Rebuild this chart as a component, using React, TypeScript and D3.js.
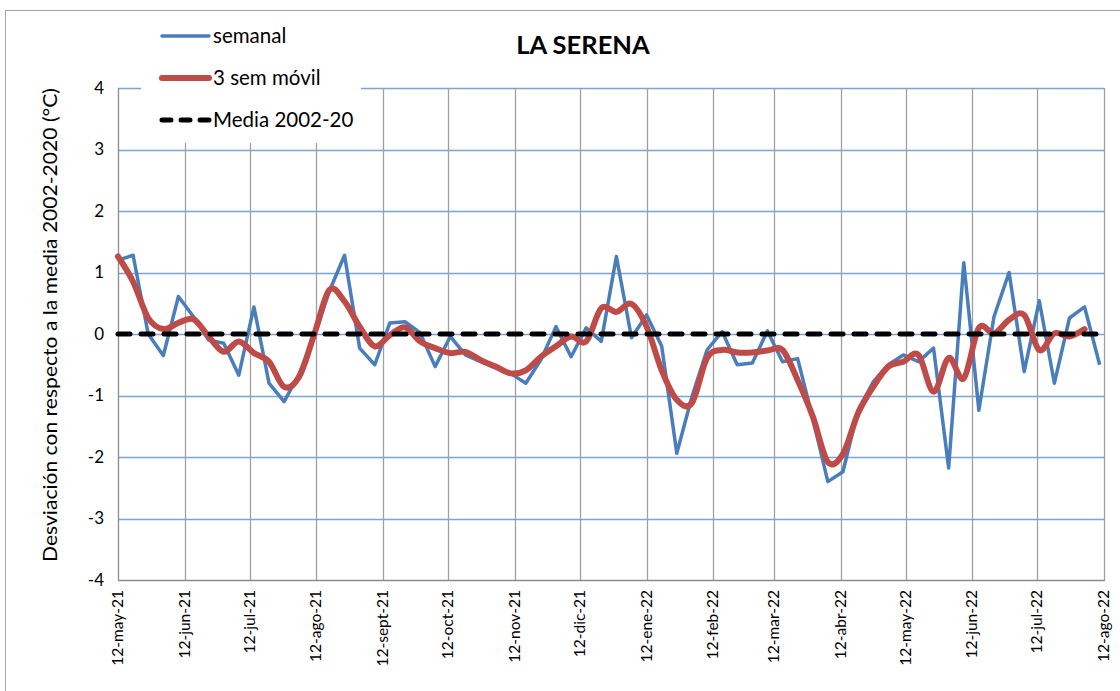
import React, { useEffect, useRef } from 'react';
import * as d3 from 'd3';

const width = 1120;
const height = 691;
const plot = { left: 118, right: 1104, top: 88, bottom: 580 };
const FONT = 'Lato, "Open Sans", sans-serif';

const startDate = new Date(2021, 4, 12);
const endDate = new Date(2022, 7, 12);

// valores semanales (desviación °C)
const semanal = [
	1.2, 1.28, 0.0, -0.35, 0.61, 0.28, -0.1, -0.15, -0.67, 0.44,
	-0.8, -1.1, -0.65, -0.04, 0.7, 1.28, -0.23, -0.5, 0.18, 0.2,
	0.02, -0.53, -0.04, -0.34, -0.45, -0.55, -0.64, -0.8, -0.42, 0.12,
	-0.37, 0.1, -0.12, 1.26, -0.06, 0.31, -0.2, -1.94, -1.02, -0.26,
	0.04, -0.5, -0.47, 0.05, -0.45, -0.4, -1.37, -2.4, -2.24, -1.24,
	-0.78, -0.5, -0.34, -0.45, -0.23, -2.18, 1.16, -1.24, 0.28, 1.0,
	-0.61, 0.54, -0.8, 0.26, 0.44, -0.5
];

// media móvil 3 semanas
const movil = [
	1.26, 0.85, 0.26, 0.08, 0.18, 0.24, -0.04, -0.29, -0.12, -0.31,
	-0.45, -0.86, -0.69, 0.0, 0.72, 0.53, 0.12, -0.2, -0.02, 0.11,
	-0.12, -0.23, -0.31, -0.29, -0.42, -0.53, -0.64, -0.59, -0.37, -0.2,
	-0.04, -0.12, 0.42, 0.36, 0.49, 0.12, -0.59, -1.07, -1.12, -0.39,
	-0.26, -0.3, -0.3, -0.27, -0.26, -0.75, -1.34, -2.08, -1.95, -1.29,
	-0.86, -0.53, -0.45, -0.34, -0.94, -0.39, -0.72, 0.1, 0.01, 0.23,
	0.31, -0.26, 0.01, -0.04, 0.08
];

const media = [0, 0];

const monthLabels = [
	'12-may-21', '12-jun-21', '12-jul-21', '12-ago-21', '12-sept-21', '12-oct-21',
	'12-nov-21', '12-dic-21', '12-ene-22', '12-feb-22', '12-mar-22', '12-abr-22',
	'12-may-22', '12-jun-22', '12-jul-22', '12-ago-22'
];

const yTicks = [4, 3, 2, 1, 0, -1, -2, -3, -4];

const weekDate = (i) => d3.timeDay.offset(startDate, i * 7);

const drawChart = (ref) => {
	const svg = d3.select(ref.current);
	svg.selectAll('*').remove();

	const x = d3.scaleTime().domain([startDate, endDate])
		.range([plot.left, plot.right]);
	const y = d3.scaleLinear().domain([-4, 4])
		.range([plot.bottom, plot.top]);
	const tickDates = monthLabels.map((_, i) => d3.timeMonth.offset(startDate, i));

	svg.append('rect').attr('x', 5.5)
		.attr('y', 10.5)
		.attr('width', width)
		.attr('height', height)
		.attr('fill', '#fff')
		.attr('stroke', '#a6a6a6');

	// horizontal gridlines
	svg.append('g').selectAll('line')
		.data(yTicks.filter((d) => d !== -4))
		.enter()
		.append('line')
		.attr('x1', plot.left)
		.attr('x2', plot.right)
		.attr('y1', (d) => Math.round(y(d)) + 0.5)
		.attr('y2', (d) => Math.round(y(d)) + 0.5)
		.attr('stroke', '#7aa3d6')
		.attr('stroke-width', 1.3);

	// vertical gridlines
	svg.append('g').selectAll('line')
		.data(tickDates.slice(1))
		.enter()
		.append('line')
		.attr('x1', (d) => Math.round(x(d)) + 0.5)
		.attr('x2', (d) => Math.round(x(d)) + 0.5)
		.attr('y1', plot.top)
		.attr('y2', plot.bottom)
		.attr('stroke', '#a0a0a0')
		.attr('stroke-width', 1.3);

	// axes
	svg.append('line').attr('x1', plot.left + 0.5)
		.attr('x2', plot.left + 0.5)
		.attr('y1', plot.top)
		.attr('y2', plot.bottom)
		.attr('stroke', '#8c8c8c')
		.attr('stroke-width', 1.3);
	svg.append('line').attr('x1', plot.left)
		.attr('x2', plot.right + 1)
		.attr('y1', plot.bottom + 0.5)
		.attr('y2', plot.bottom + 0.5)
		.attr('stroke', '#8c8c8c')
		.attr('stroke-width', 1.3);

	svg.append('g').selectAll('text')
		.data(yTicks)
		.enter()
		.append('text')
		.attr('x', 104)
		.attr('y', (d) => y(d))
		.attr('dy', '0.35em')
		.attr('text-anchor', 'end')
		.attr('font-family', FONT)
		.attr('font-size', 17)
		.text((d) => d);

	svg.append('g').selectAll('text')
		.data(tickDates)
		.enter()
		.append('text')
		.attr('transform', (d) => `translate(${ x(d) + 5 },${ plot.bottom + 10 }) rotate(-90)`)
		.attr('text-anchor', 'end')
		.attr('font-family', FONT)
		.attr('font-size', 15.5)
		.text((d, i) => monthLabels[i]);

	svg.append('text').attr('transform', 'translate(57,325) rotate(-90)')
		.attr('text-anchor', 'middle')
		.attr('font-family', FONT)
		.attr('font-size', 20)
		.attr('textLength', 474)
		.attr('lengthAdjust', 'spacingAndGlyphs')
		.text('Desviación con respecto a la media 2002-2020 (°C)');

	// series
	const line = d3.line().x((d, i) => x(weekDate(i)))
		.y((d) => y(d));

	svg.append('path').datum(semanal)
		.attr('d', line)
		.attr('fill', 'none')
		.attr('stroke', '#4a7ebb')
		.attr('stroke-width', 3.5)
		.attr('stroke-linejoin', 'round');

	svg.append('path').datum(movil)
		.attr('d', line.curve(d3.curveCardinal.tension(0)))
		.attr('fill', 'none')
		.attr('stroke', '#be4b48')
		.attr('stroke-width', 6)
		.attr('stroke-linecap', 'round')
		.attr('stroke-linejoin', 'round');

	svg.append('path').datum(media)
		.attr('d', d3.line().x((d, i) => (i === 0 ? x(startDate) : x(endDate) + 2))
			.y((d) => y(d)))
		.attr('stroke', '#000')
		.attr('stroke-width', 5)
		.attr('stroke-dasharray', '12 11')
		.attr('stroke-linecap', 'round');

	// legend
	const lg = svg.append('g');
	lg.append('rect').attr('x', 141)
		.attr('y', 14)
		.attr('width', 220)
		.attr('height', 129)
		.attr('fill', '#fff');
	const items = [
		{ label: 'semanal', color: '#4a7ebb', w: 3.5, dash: null, cap: 'round' },
		{ label: '3 sem móvil', color: '#be4b48', w: 6, dash: null, cap: 'round' },
		{ label: 'Media 2002-20', color: '#000', w: 5, dash: '9 10', cap: 'round' }
	];
	items.forEach((it, i) => {
		const yy = 36 + i * 42;
		lg.append('line').attr('x1', 162)
			.attr('x2', 209)
			.attr('y1', yy)
			.attr('y2', yy)
			.attr('stroke', it.color)
			.attr('stroke-width', it.w)
			.attr('stroke-dasharray', it.dash)
			.attr('stroke-linecap', it.cap);
		lg.append('text').attr('x', 213)
			.attr('y', yy)
			.attr('dy', '0.35em')
			.attr('font-family', FONT)
			.attr('font-size', 20.5)
			.text(it.label);
	});

	svg.append('text').attr('x', 583)
		.attr('y', 45)
		.attr('dy', '0.35em')
		.attr('text-anchor', 'middle')
		.attr('font-family', FONT)
		.attr('font-size', 25.5)
		.attr('font-weight', 'bold')
		.text('LA SERENA');
};

const App = () => {
	const ref = useRef(null);

	useEffect(() => drawChart(ref), []);

	return (
		<svg ref={ ref } width={ width } height={ height }
			style={ { position: 'absolute', left: 0, top: 0 } }/>
	);
};

export default App;
